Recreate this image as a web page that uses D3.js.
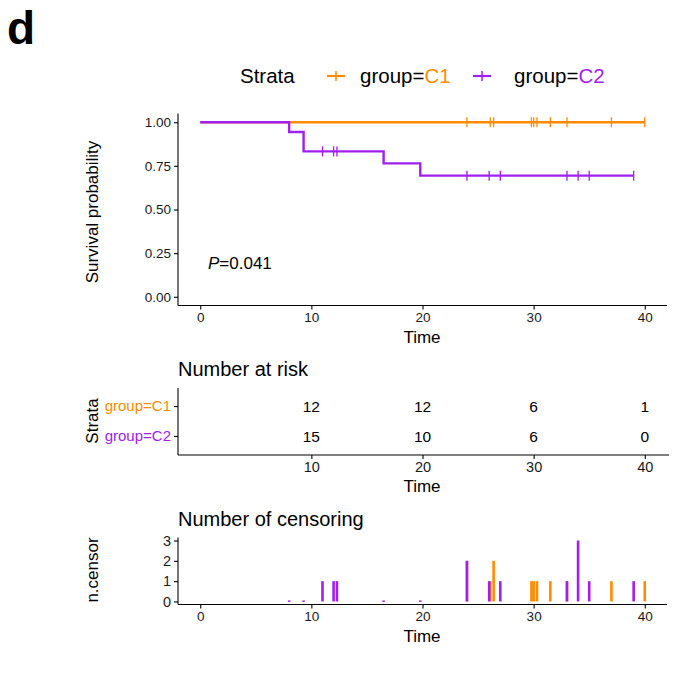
<!DOCTYPE html>
<html lang="en">
	<head>
		<meta charset="utf-8">
		<title>Kaplan-Meier plot, group C1 vs C2</title>
		<script type="text/javascript" src="https://cdn.jsdelivr.net/npm/d3@7"></script>
		<style type="text/css">
			body { margin: 0; background: white; }
			text { font-family: "Liberation Sans", Arial, Helvetica, sans-serif; fill: black; }
			.axis path, .axis line { stroke: black; stroke-width: 1.1; }
			.axis text { font-size: 13.5px; fill: #1a1a1a; }
		</style>
	</head>
	<body>
		<script type="text/javascript">

			//Data
			let strata = ["group=C1", "group=C2"];
			let colors = ["#FF8C00", "#A020F0"];

			//Step curves (time, survival)
			let c1StepTime = [0, 40];
			let c1StepSurv = [1, 1];
			let c2StepTime = [0, 8, 9.3, 16.5, 19.8, 39];
			let c2StepSurv = [1, 0.944, 0.833, 0.764, 0.694, 0.694];

			//Censoring times and counts
			let c1CensorTime = [24, 26.1, 26.4, 29.8, 30, 30.3, 31.5, 33, 37, 40];
			let c1CensorCount = [2, 1, 2, 1, 1, 1, 1, 1, 1, 1];
			let c2CensorTime = [8, 9.3, 11, 12, 12.3, 16.5, 19.8, 24, 26, 27, 33, 34, 35, 39];
			let c2CensorCount = [0, 0, 1, 1, 1, 0, 0, 2, 1, 1, 1, 3, 1, 1];

			//Number at risk
			let riskTimes = [10, 20, 30, 40];
			let c1Risk = [12, 12, 6, 1];
			let c2Risk = [15, 10, 6, 0];

			let xTicks = [0, 10, 20, 30, 40];
			let survTicks = [0, 0.25, 0.5, 0.75, 1];
			let censorTicks = [0, 1, 2, 3];

			let w = 683;
			let h = 674;

			let svg = d3.select("body")
						.append("svg")
						  .attr("width", w)
						  .attr("height", h);

			//Shared x scale (ggplot 5% expansion)
			let x = d3.scaleLinear().domain([-2, 42]).range([178, 667]);

			//Axis title helpers
			let xTitle = (y) => svg.append("text")
				.attr("x", 422)
				.attr("y", y)
				.attr("text-anchor", "middle")
				.style("font-size", "17px")
				.text("Time");
			let yTitle = (y, label) => svg.append("text")
				.attr("transform", `translate(98,${y}) rotate(-90)`)
				.attr("text-anchor", "middle")
				.style("font-size", "17px")
				.text(label);

			//Panel label
			svg.append("text")
				.attr("x", 7)
				.attr("y", 44)
				.style("font-size", "46px")
				.style("font-weight", "bold")
				.text("d");

			//Legend
			let legend = svg.append("g");
			legend.append("text")
				.attr("x", 240)
				.attr("y", 83)
				.style("font-size", "20.5px")
				.text("Strata");
			let legX = [336, 482];
			strata.forEach((s, i) => {
				let g = legend.append("g").attr("transform", `translate(${legX[i]},76)`);
				g.append("line").attr("x1", -9).attr("x2", 9).attr("stroke", colors[i]).attr("stroke-width", 2.2);
				g.append("line").attr("y1", -5).attr("y2", 5).attr("stroke", colors[i]).attr("stroke-width", 1.5);
				let t = legend.append("text")
					.attr("x", legX[i] + 24 + (i == 1 ? 8 : 0))
					.attr("y", 83)
					.style("font-size", "20.5px");
				t.append("tspan").text("group=");
				t.append("tspan").style("fill", colors[i]).text(s.replace("group=", ""));
			});

			//--- Survival curves ---
			let yS = d3.scaleLinear().domain([-0.05, 1.05]).range([305.5, 113.5]);

			svg.append("g")
				.attr("class", "axis")
				.attr("transform", "translate(0,305.5)")
				.call(d3.axisBottom(x).tickValues(xTicks).tickSize(4).tickPadding(3))
				.call(g => g.select(".domain").attr("d", "M178,0H667"));
			svg.append("g")
				.attr("class", "axis")
				.attr("transform", "translate(178,0)")
				.call(d3.axisLeft(yS).tickValues(survTicks).tickFormat(d3.format(".2f")).tickSize(4).tickPadding(3))
				.call(g => g.select(".domain").attr("d", "M0,113.5V305.5"));

			xTitle(343);
			yTitle(212, "Survival probability");

			let curves = [
				{ time: c1StepTime, surv: c1StepSurv, ct: c1CensorTime, cn: c1CensorCount },
				{ time: c2StepTime, surv: c2StepSurv, ct: c2CensorTime, cn: c2CensorCount }
			];

			let line = d3.line().curve(d3.curveStepAfter).x(d => x(d[0])).y(d => yS(d[1]));

			//Survival at time t
			let survAt = (c, t) => {
				let s = c.surv[0];
				c.time.forEach((tt, k) => { if (tt <= t) s = c.surv[k]; });
				return s;
			};

			curves.forEach((c, i) => {
				svg.append("path")
					.datum(c.time.map((t, k) => [t, c.surv[k]]))
					.attr("fill", "none")
					.attr("stroke", colors[i])
					.attr("stroke-width", 2.4)
					.attr("d", line);
				//Censor marks
				svg.selectAll(null)
					.data(c.ct.filter((t, k) => c.cn[k] > 0))
					.enter()
				  .append("line")
					.attr("x1", d => x(d))
					.attr("x2", d => x(d))
					.attr("y1", d => yS(survAt(c, d)) - 5)
					.attr("y2", d => yS(survAt(c, d)) + 5)
					.attr("stroke", colors[i])
					.attr("stroke-width", 1.3);
			});

			let pText = svg.append("text")
				.attr("x", 208)
				.attr("y", 269)
				.style("font-size", "17px");
			pText.append("tspan").style("font-style", "italic").text("P");
			pText.append("tspan").text("=0.041");

			//--- Number at risk ---
			svg.append("text")
				.attr("x", 178)
				.attr("y", 376)
				.style("font-size", "20px")
				.text("Number at risk");

			let yR = d3.scaleBand().domain(strata).range([388, 455]).paddingOuter(0.12);

			svg.append("g")
				.attr("class", "axis")
				.attr("transform", "translate(0,455)")
				.call(d3.axisBottom(x).tickValues(riskTimes).tickSize(4).tickPadding(3))
				.call(g => g.select(".domain").attr("d", "M178,0H669"))
				.call(g => g.selectAll("text").style("font-size", "14.5px"));
			let rAxis = svg.append("g")
				.attr("class", "axis")
				.attr("transform", "translate(178,0)")
				.call(d3.axisLeft(yR).tickSize(4).tickPadding(3))
				.call(g => g.select(".domain").attr("d", "M0,388V455"));
			rAxis.selectAll("text")
				.style("font-size", "15px")
				.style("fill", (d, i) => colors[i]);

			[c1Risk, c2Risk].forEach((r, i) => {
				svg.selectAll(null)
					.data(riskTimes)
					.enter()
				  .append("text")
					.attr("x", d => x(d))
					.attr("y", yR(strata[i]) + yR.bandwidth() / 2 + 5.5)
					.attr("text-anchor", "middle")
					.style("font-size", "15.5px")
					.text((d, k) => r[k]);
			});

			xTitle(492);
			yTitle(421, "Strata");

			//--- Number of censoring ---
			svg.append("text")
				.attr("x", 178)
				.attr("y", 526)
				.style("font-size", "20px")
				.text("Number of censoring");

			let yC = d3.scaleLinear().domain([-0.15, 3.15]).range([604.5, 537.5]);

			curves.forEach((c, i) => {
				svg.selectAll(null)
					.data(c.ct.map((t, k) => [t, c.cn[k]]))
					.enter()
				  .append("rect")
					.attr("x", d => x(d[0]) - 1.3)
					.attr("width", 2.6)
					.attr("y", d => d[1] > 0 ? yC(d[1]) : yC(0) - 1)
					.attr("height", d => d[1] > 0 ? yC(0) - yC(d[1]) : 1.4)
					.attr("fill", colors[i]);
			});

			svg.append("g")
				.attr("class", "axis")
				.attr("transform", "translate(0,604.5)")
				.call(d3.axisBottom(x).tickValues(xTicks).tickSize(4).tickPadding(3))
				.call(g => g.select(".domain").attr("d", "M178,0H667"));
			svg.append("g")
				.attr("class", "axis")
				.attr("transform", "translate(178,0)")
				.call(d3.axisLeft(yC).tickValues(censorTicks).tickFormat(d3.format("d")).tickSize(4).tickPadding(3))
				.call(g => g.select(".domain").attr("d", "M0,537.5V604.5"))
				.call(g => g.selectAll("text").style("font-size", "14.5px"));

			xTitle(642);
			yTitle(570, "n.censor");

		</script>
	</body>
</html>
